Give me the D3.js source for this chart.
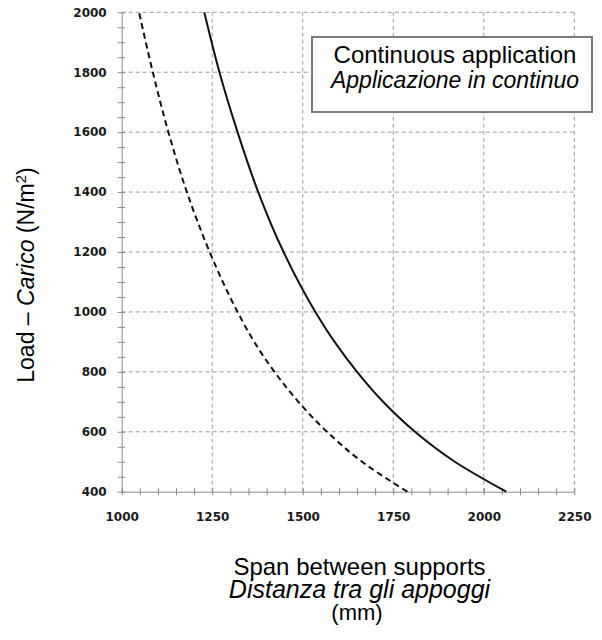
<!DOCTYPE html>
<html>
<head>
<meta charset="utf-8">
<script src="https://cdn.jsdelivr.net/npm/d3@7"></script>
<style>
  body { margin: 0; background: #fff; }
  svg { display: block; }
</style>
</head>
<body>
<svg id="chart" width="602" height="640"></svg>
<script>
// ---- data ----
const loadLevels = [2000, 1800, 1600, 1400, 1200, 1000, 900, 800, 700, 600, 500, 400]; // N/m²
const spanSolid  = [1228, 1270, 1320, 1377, 1447, 1535, 1588, 1650, 1722, 1810, 1920, 2062]; // mm
const spanDashed = [1048, 1086, 1129, 1180, 1243, 1320, 1366, 1422, 1488, 1567, 1664, 1789]; // mm
const xMajorTicks = [1000, 1250, 1500, 1750, 2000, 2250];
const yMajorTicks = [400, 600, 800, 1000, 1200, 1400, 1600, 1800, 2000];
const xMinorTicks = d3.range(1000, 2251, 50);
const yMinorTicks = d3.range(400, 2001, 50);
const legendLines = ["Continuous application", "Applicazione in continuo"];
const xTitleLines = ["Span between supports", "Distanza tra gli appoggi", "(mm)"];

const svg = d3.select("#chart");
const x = d3.scaleLinear().domain([1000, 2250]).range([121.7, 574.3]);
const y = d3.scaleLinear().domain([400, 2000]).range([491.7, 12.3]);

const gridColor = "#9a9a9a";
const axisColor = "#8a8a8a";
const font = "Liberation Sans, Arial, sans-serif";

// grid
svg.append("g").selectAll("line")
  .data(xMajorTicks.filter(d => d > 1000)).join("line")
  .attr("x1", d => x(d)).attr("x2", d => x(d))
  .attr("y1", y(400)).attr("y2", y(2000))
  .attr("stroke", gridColor).attr("stroke-width", 1)
  .attr("stroke-dasharray", "4,3");
svg.append("g").selectAll("line")
  .data(yMajorTicks.filter(d => d > 400)).join("line")
  .attr("x1", x(1000)).attr("x2", x(2250))
  .attr("y1", d => y(d)).attr("y2", d => y(d))
  .attr("stroke", gridColor).attr("stroke-width", 1)
  .attr("stroke-dasharray", "4,3");

// minor tick axes (ticks crossing the axis line)
const gx = svg.append("g").attr("transform", `translate(0,${y(400)})`)
  .call(d3.axisBottom(x).tickValues(xMinorTicks).tickSize(3.5).tickSizeOuter(0).tickFormat(""));
gx.selectAll(".tick line").attr("y1", -3.5).attr("stroke", axisColor);
gx.select(".domain").attr("stroke", axisColor);

const gy = svg.append("g").attr("transform", `translate(${x(1000)},0)`)
  .call(d3.axisLeft(y).tickValues(yMinorTicks).tickSize(4).tickSizeOuter(0).tickFormat(""));
gy.selectAll(".tick line").attr("x1", 3.5).attr("stroke", axisColor);
gy.select(".domain").attr("stroke", axisColor);

// major labels
const gxl = svg.append("g").attr("transform", `translate(0,${y(400)})`)
  .call(d3.axisBottom(x).tickValues(xMajorTicks).tickSize(0).tickPadding(21).tickFormat(d3.format("d")));
gxl.select(".domain").remove();
gxl.selectAll("text").attr("font-family", "DejaVu Sans").attr("font-weight", "bold")
  .attr("font-size", 12).attr("fill", "#1a1a1a");

const gyl = svg.append("g").attr("transform", `translate(${x(1000)},0)`)
  .call(d3.axisLeft(y).tickValues(yMajorTicks).tickSize(0).tickPadding(15).tickFormat(d3.format("d")));
gyl.select(".domain").remove();
gyl.selectAll("text").attr("font-family", "DejaVu Sans").attr("font-weight", "bold")
  .attr("font-size", 12).attr("fill", "#1a1a1a");

// curves
const line = d3.line().curve(d3.curveMonotoneY);
const solidPts = loadLevels.map((l, i) => [x(spanSolid[i]), y(l)]).reverse();
const dashPts = loadLevels.map((l, i) => [x(spanDashed[i]), y(l)]).reverse();
svg.append("path").attr("d", line(dashPts)).attr("fill", "none")
  .attr("stroke", "#111").attr("stroke-width", 2).attr("stroke-dasharray", "6,4");
svg.append("path").attr("d", line(solidPts)).attr("fill", "none")
  .attr("stroke", "#111").attr("stroke-width", 2);

// legend box
svg.append("rect").attr("x", 312).attr("y", 37).attr("width", 280).attr("height", 75)
  .attr("fill", "#fff").attr("stroke", "#7a7a7a").attr("stroke-width", 2);
const lg = svg.append("text").attr("font-family", font)
  .attr("text-anchor", "middle").attr("fill", "#000");
lg.append("tspan").attr("x", 455).attr("y", 63).attr("font-size", 24).text(legendLines[0]);
lg.append("tspan").attr("x", 455).attr("y", 88).attr("font-size", 23).attr("font-style", "italic").text(legendLines[1]);

// x title
const xt = svg.append("text").attr("font-family", font)
  .attr("text-anchor", "middle").attr("fill", "#000");
xt.append("tspan").attr("x", 359.5).attr("y", 575).attr("font-size", 24).text(xTitleLines[0]);
xt.append("tspan").attr("x", 359.5).attr("y", 598).attr("font-size", 25).attr("font-style", "italic").text(xTitleLines[1]);
xt.append("tspan").attr("x", 357).attr("y", 620).attr("font-size", 22).text(xTitleLines[2]);

// y title
const yt = svg.append("text").attr("font-family", font)
  .attr("font-size", 23).attr("text-anchor", "middle").attr("fill", "#000")
  .attr("transform", "translate(34,275) rotate(-90)");
yt.append("tspan").text("Load – ");
yt.append("tspan").attr("font-style", "italic").text("Carico");
yt.append("tspan").text(" (N/m");
yt.append("tspan").attr("font-size", 15).attr("dy", -8).text("2");
yt.append("tspan").attr("dy", 8).text(")");
</script>
</body>
</html>
